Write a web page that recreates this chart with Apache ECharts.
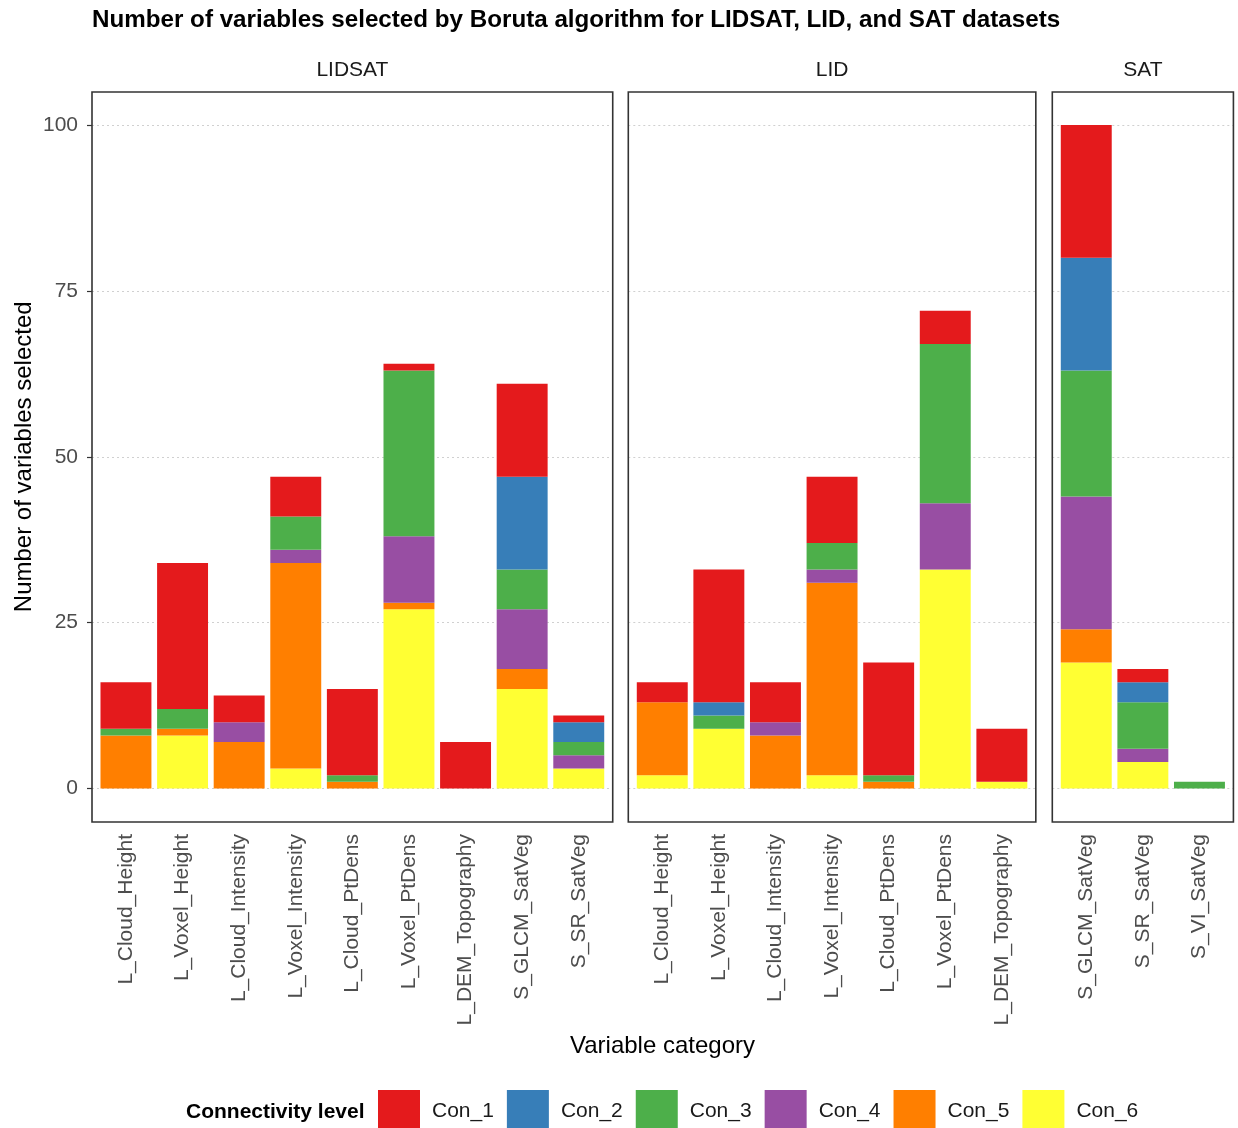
<!DOCTYPE html>
<html>
<head>
<meta charset="utf-8">
<title>Boruta variable selection</title>
<script src="https://cdn.jsdelivr.net/npm/echarts@6/dist/echarts.min.js"></script>
<style>
  html, body { margin: 0; padding: 0; background: #fff; }
  #chart { width: 1238px; height: 1128px; }
</style>
</head>
<body>
<div id="chart"></div>
<script>
// categories per facet
var lidsatCats = ['L_Cloud_Height', 'L_Voxel_Height', 'L_Cloud_Intensity', 'L_Voxel_Intensity',
  'L_Cloud_PtDens', 'L_Voxel_PtDens', 'L_DEM_Topography', 'S_GLCM_SatVeg', 'S_SR_SatVeg'];
var lidCats = ['L_Cloud_Height', 'L_Voxel_Height', 'L_Cloud_Intensity', 'L_Voxel_Intensity',
  'L_Cloud_PtDens', 'L_Voxel_PtDens', 'L_DEM_Topography'];
var satCats = ['S_GLCM_SatVeg', 'S_SR_SatVeg', 'S_VI_SatVeg'];

var levels = ['Con_1', 'Con_2', 'Con_3', 'Con_4', 'Con_5', 'Con_6'];
var levelColors = ['#E41A1C', '#377EB8', '#4DAF4A', '#984EA3', '#FF7F00', '#FFFF33'];

// counts, one row per level (Con_1 .. Con_6)
var lidsatCounts = [
  [7, 22, 4, 6, 13, 1, 7, 14, 1],
  [0, 0, 0, 0, 0, 0, 0, 14, 3],
  [1, 3, 0, 5, 1, 25, 0, 6, 2],
  [0, 0, 3, 2, 0, 10, 0, 9, 2],
  [8, 1, 7, 31, 1, 1, 0, 3, 0],
  [0, 8, 0, 3, 0, 27, 0, 15, 3]
];
var lidCounts = [
  [3, 20, 6, 10, 17, 5, 8],
  [0, 2, 0, 0, 0, 0, 0],
  [0, 2, 0, 4, 1, 24, 0],
  [0, 0, 2, 2, 0, 10, 0],
  [11, 0, 8, 29, 1, 0, 0],
  [2, 9, 0, 2, 0, 33, 1]
];
var satCounts = [
  [20, 2, 0],
  [17, 3, 0],
  [19, 7, 1],
  [20, 2, 0],
  [5, 0, 0],
  [19, 4, 0]
];

var yTicks = [0, 25, 50, 75, 100];

var facets = [
  { name: 'LIDSAT', cats: lidsatCats, counts: lidsatCounts },
  { name: 'LID', cats: lidCats, counts: lidCounts },
  { name: 'SAT', cats: satCats, counts: satCounts }
];

// layout (facet widths follow number of categories, like space = "free_x")
var FONT = '"Liberation Sans", Arial, sans-serif';
var unit = 56.6;
var panelTop = 92, panelBottom = 822;
var plotTop = 125, plotBottom = 788.5;
var panelLeft = [92, 628.3, 1052.3];

var grids = [], xAxes = [], yAxes = [], series = [], graphics = [];

// background grids: full panel width, dotted major grid lines
facets.forEach(function (f, i) {
  var w = (f.cats.length + 0.2) * unit;
  grids.push({ left: panelLeft[i], top: plotTop, width: w, height: plotBottom - plotTop });
  xAxes.push({ type: 'value', gridIndex: i, min: 0, max: 1, show: false });
  yAxes.push({
    type: 'value', gridIndex: i, min: yTicks[0], max: yTicks[yTicks.length - 1], interval: 25,
    axisLine: { show: false },
    axisTick: { show: i === 0, length: 5, lineStyle: { color: '#333', width: 1.2 } },
    axisLabel: { show: i === 0, fontSize: 21, color: '#4d4d4d', fontFamily: FONT, margin: 14 },
    splitLine: { show: true, lineStyle: { color: '#d0d0d0', type: [2, 3], width: 1 } },
    name: i === 0 ? 'Number of variables selected' : '',
    nameLocation: 'middle', nameRotate: 90, nameGap: 56,
    nameTextStyle: { fontSize: 24, color: '#000', fontFamily: FONT }
  });
});

// data grids: inset by the discrete-axis expansion
facets.forEach(function (f, i) {
  var gi = i + 3;
  grids.push({ left: panelLeft[i] + 0.1 * unit, top: plotTop, width: f.cats.length * unit, height: plotBottom - plotTop });
  xAxes.push({
    type: 'category', gridIndex: gi, data: f.cats, offset: panelBottom - plotBottom,
    axisLine: { show: false },
    axisTick: { show: false },
    axisLabel: { rotate: 90, fontSize: 21, color: '#4d4d4d', fontFamily: FONT, margin: 12, interval: 0 },
    splitLine: { show: false }
  });
  yAxes.push({ type: 'value', gridIndex: gi, min: 0, max: 100, show: false, splitLine: { show: false } });

  // stack from Con_6 at the bottom up to Con_1
  for (var k = levels.length - 1; k >= 0; k--) {
    series.push({
      type: 'bar', name: levels[k], stack: 'facet' + i,
      xAxisIndex: gi, yAxisIndex: gi,
      barWidth: 0.9 * unit,
      itemStyle: { color: levelColors[k] },
      data: f.counts[k]
    });
  }

  // panel border and strip label
  var w = (f.cats.length + 0.2) * unit;
  graphics.push({
    type: 'rect', z: 100,
    shape: { x: panelLeft[i], y: panelTop, width: w, height: panelBottom - panelTop },
    style: { fill: null, stroke: '#333', lineWidth: 1.6 }
  });
  graphics.push({
    type: 'text', z: 100,
    style: { text: f.name, x: panelLeft[i] + w / 2, y: 70, textAlign: 'center', textVerticalAlign: 'middle',
      font: '21px ' + FONT, fill: '#1a1a1a' }
  });
});

graphics.push({
  type: 'text',
  style: { text: 'Number of variables selected by Boruta algorithm for LIDSAT, LID, and SAT datasets',
    x: 92, y: 20, textAlign: 'left', textVerticalAlign: 'middle', font: 'bold 24.2px ' + FONT, fill: '#000' }
});
graphics.push({
  type: 'text',
  style: { text: 'Variable category', x: 662.5, y: 1046, textAlign: 'center', textVerticalAlign: 'middle',
    font: '24px ' + FONT, fill: '#000' }
});
graphics.push({
  type: 'text',
  style: { text: 'Connectivity level', x: 186, y: 1112, textAlign: 'left', textVerticalAlign: 'middle',
    font: 'bold 21px ' + FONT, fill: '#000' }
});

var chart = echarts.init(document.getElementById('chart'), null, { renderer: 'canvas' });
chart.setOption({
  animation: false,
  backgroundColor: '#fff',
  grid: grids,
  xAxis: xAxes,
  yAxis: yAxes,
  legend: {
    data: levels,
    left: 378, top: 1090,
    orient: 'horizontal',
    icon: 'rect',
    itemWidth: 42, itemHeight: 42, itemGap: 13, padding: 0,
    selectedMode: false,
    textStyle: { fontSize: 21, color: '#1a1a1a', fontFamily: FONT, padding: [0, 0, 0, 7] }
  },
  series: series,
  graphic: graphics
});
</script>
</body>
</html>
